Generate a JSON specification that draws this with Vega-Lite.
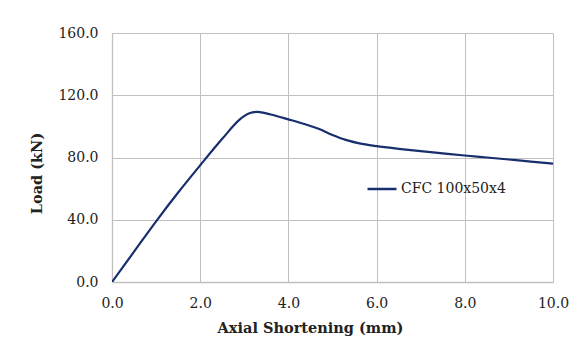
{
  "$schema": "https://vega.github.io/schema/vega-lite/v6.json",
  "autosize": {"type": "none"},
  "width": 441,
  "height": 249,
  "padding": {"left": 112, "top": 33, "right": 20, "bottom": 63},
  "background": "white",
  "data": {"values": [
    {"x": 0.0, "y": 0.0, "s": "CFC 100x50x4"},
    {"x": 0.5, "y": 19.5, "s": "CFC 100x50x4"},
    {"x": 1.0, "y": 39.0, "s": "CFC 100x50x4"},
    {"x": 1.5, "y": 57.5, "s": "CFC 100x50x4"},
    {"x": 2.0, "y": 75.0, "s": "CFC 100x50x4"},
    {"x": 2.5, "y": 92.0, "s": "CFC 100x50x4"},
    {"x": 2.9, "y": 104.5, "s": "CFC 100x50x4"},
    {"x": 3.1, "y": 108.3, "s": "CFC 100x50x4"},
    {"x": 3.3, "y": 109.3, "s": "CFC 100x50x4"},
    {"x": 3.6, "y": 107.6, "s": "CFC 100x50x4"},
    {"x": 4.0, "y": 104.5, "s": "CFC 100x50x4"},
    {"x": 4.4, "y": 101.2, "s": "CFC 100x50x4"},
    {"x": 4.7, "y": 98.3, "s": "CFC 100x50x4"},
    {"x": 5.0, "y": 94.5, "s": "CFC 100x50x4"},
    {"x": 5.3, "y": 91.3, "s": "CFC 100x50x4"},
    {"x": 5.7, "y": 88.6, "s": "CFC 100x50x4"},
    {"x": 6.0, "y": 87.3, "s": "CFC 100x50x4"},
    {"x": 6.5, "y": 85.6, "s": "CFC 100x50x4"},
    {"x": 7.0, "y": 84.1, "s": "CFC 100x50x4"},
    {"x": 7.5, "y": 82.7, "s": "CFC 100x50x4"},
    {"x": 8.0, "y": 81.3, "s": "CFC 100x50x4"},
    {"x": 8.5, "y": 80.0, "s": "CFC 100x50x4"},
    {"x": 9.0, "y": 78.7, "s": "CFC 100x50x4"},
    {"x": 9.5, "y": 77.4, "s": "CFC 100x50x4"},
    {"x": 10.0, "y": 76.0, "s": "CFC 100x50x4"}
  ]},
  "mark": {"type": "line", "interpolate": "monotone", "strokeWidth": 2.2, "clip": true},
  "encoding": {
    "x": {
      "field": "x", "type": "quantitative",
      "scale": {"domain": [0, 10], "nice": false, "zero": true},
      "axis": {
        "values": [0, 2, 4, 6, 8, 10], "format": ".1f", "labelFlush": false,
        "title": "Axial Shortening (mm)",
        "titleX": 198, "titleY": 50, "titleBaseline": "alphabetic", "titleAnchor": null
      }
    },
    "y": {
      "field": "y", "type": "quantitative",
      "scale": {"domain": [0, 160], "nice": false},
      "axis": {
        "values": [0, 40, 80, 120, 160], "format": ".1f", "labelFlush": false,
        "title": "Load (kN)",
        "titleX": -71, "titleY": 140, "titleAngle": 270, "titleBaseline": "alphabetic", "titleAlign": "center"
      }
    },
    "color": {
      "field": "s", "type": "nominal",
      "scale": {"range": ["#182F6E"]},
      "legend": {
        "title": null, "orient": "none", "legendX": 254, "legendY": 140,
        "symbolType": "stroke", "symbolSize": 841, "symbolStrokeWidth": 2.5,
        "labelFont": "DejaVu Serif", "labelFontSize": 14, "labelColor": "#222222", "labelOffset": 3
      }
    }
  },
  "config": {
    "view": {"stroke": null},
    "axis": {
      "grid": true, "gridColor": "#C0C0C0", "gridWidth": 1,
      "domainColor": "#C0C0C0", "domainWidth": 1.3,
      "ticks": false,
      "labelFont": "DejaVu Serif", "labelFontSize": 14, "labelColor": "#222222",
      "labelPadding": 14,
      "titleFont": "DejaVu Serif", "titleFontSize": 14.5, "titleFontWeight": "bold", "titleColor": "#222222"
    }
  }
}
